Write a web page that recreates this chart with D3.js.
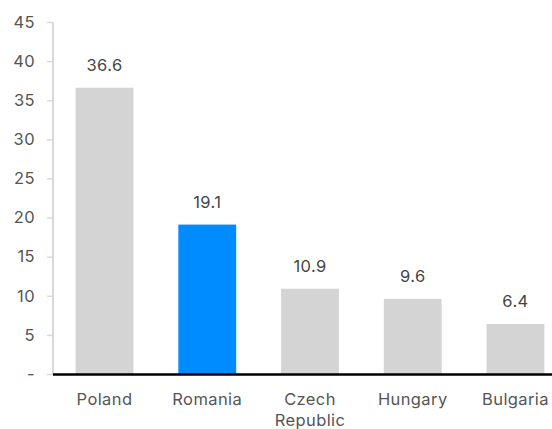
<!DOCTYPE html>
<html>
<head>
<meta charset="utf-8">
<script src="https://cdn.jsdelivr.net/npm/d3@7"></script>
<style>
  body { margin: 0; background: #fff; }
  text { font-family: Inter, "Noto Sans", sans-serif; letter-spacing: 0.4px; }
</style>
</head>
<body>
<script>
var width = 552,
    height = 429;

var countries = ["Poland", "Romania", "Czech Republic", "Hungary", "Bulgaria"];
var values = [36.6, 19.1, 10.9, 9.6, 6.4];
var highlight = ["Romania"];
var yTicks = [0, 5, 10, 15, 20, 25, 30, 35, 40, 45];

var svg = d3.select("body").append("svg")
    .attr("width", width)
    .attr("height", height);

var x = d3.scaleBand()
    .domain(countries)
    .range([53, 567])
    .paddingInner(0.437)
    .paddingOuter(0.22);

var y = d3.scaleLinear()
    .domain([0, 45])
    .range([374, 22]);

// y axis
var yAxis = svg.append("g")
    .attr("transform", "translate(53,0)")
    .call(d3.axisLeft(y).tickValues(yTicks).tickSize(6).tickPadding(12)
        .tickFormat(function(d){ return d == 0 ? "-" : d; }));
yAxis.select(".domain").attr("stroke", "#d9d9d9").attr("stroke-width", 2)
    .attr("d", "M0," + y(45) + "V" + y(0));
yAxis.selectAll(".tick line").attr("stroke", "#d9d9d9").attr("stroke-width", 1.5);
yAxis.selectAll(".tick text")
    .attr("fill", "#555")
    .style("font-size", "16.5px");

// bars
svg.selectAll("rect.bar").data(countries).enter()
  .append("rect")
    .attr("class", "bar")
    .attr("x", function(d){ return x(d); })
    .attr("y", function(d,i){ return y(values[i]); })
    .attr("width", x.bandwidth())
    .attr("height", function(d,i){ return y(0) - y(values[i]); })
    .attr("fill", function(d){ return highlight.indexOf(d) >= 0 ? "#008cff" : "#d4d4d4"; });

// value labels
svg.selectAll("text.val").data(countries).enter()
  .append("text")
    .attr("class", "val")
    .attr("x", function(d){ return x(d) + x.bandwidth()/2; })
    .attr("y", function(d,i){ return y(values[i]) - 17; })
    .attr("text-anchor", "middle")
    .attr("fill", "#444")
    .style("font-size", "16.5px")
    .text(function(d,i){ return values[i].toFixed(1); });

// x axis line
svg.append("line")
    .attr("x1", 53)
    .attr("x2", width)
    .attr("y1", y(0) + 0.5)
    .attr("y2", y(0) + 0.5)
    .attr("stroke", "#000")
    .attr("stroke-width", 2.5);

// category labels
var cat = svg.selectAll("text.cat").data(countries).enter()
  .append("text")
    .attr("class", "cat")
    .attr("x", function(d){ return x(d) + x.bandwidth()/2; })
    .attr("y", 405)
    .attr("text-anchor", "middle")
    .attr("fill", "#555")
    .style("font-size", "16.5px");
cat.each(function(d){
  var words = d == "Czech Republic" ? ["Czech", "Republic"] : [d];
  var t = d3.select(this);
  words.forEach(function(w, i){
    t.append("tspan")
      .attr("x", x(d) + x.bandwidth()/2)
      .attr("dy", i == 0 ? 0 : 21)
      .text(w);
  });
});
</script>
</body>
</html>
